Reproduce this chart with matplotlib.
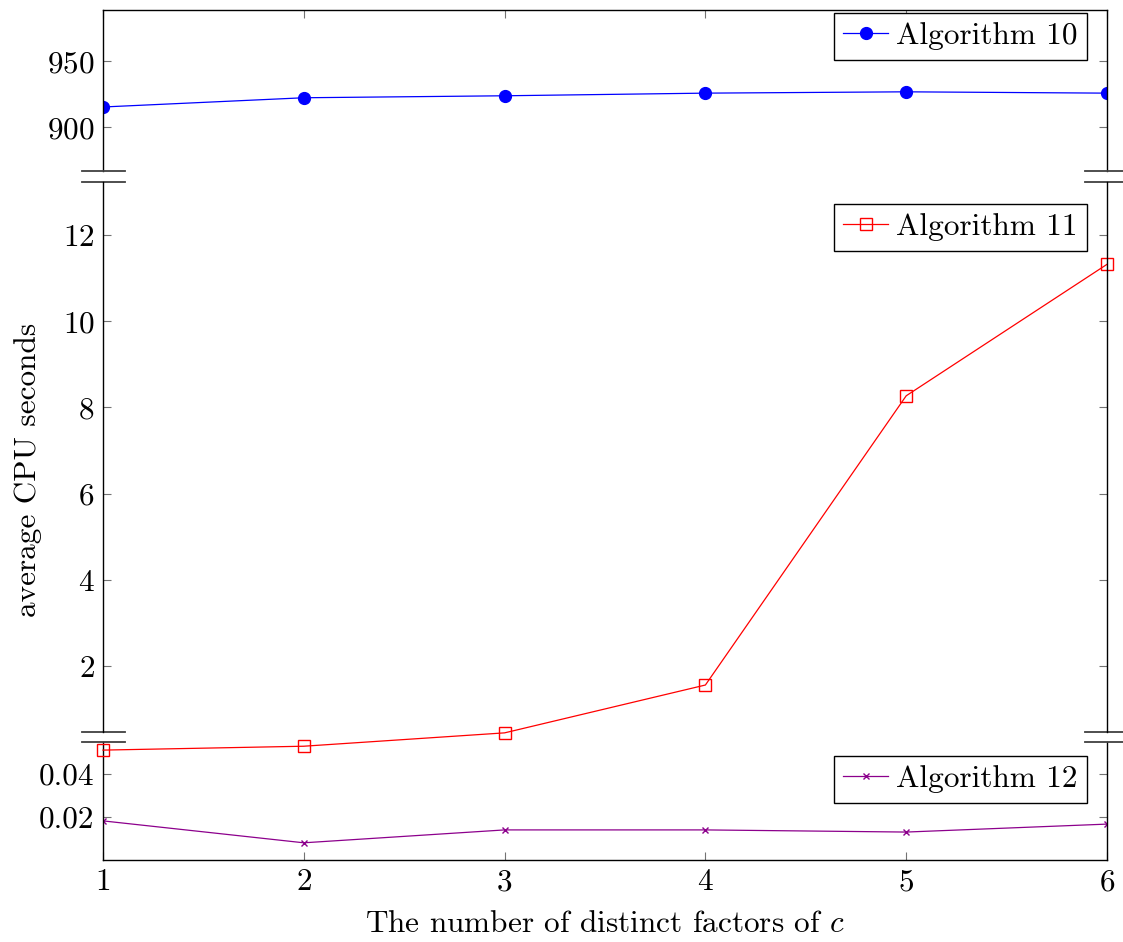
import numpy as np
import matplotlib.pyplot as plt
from matplotlib.lines import Line2D

plt.rcParams['font.family'] = 'serif'
plt.rcParams['font.serif'] = ['cmr10']
plt.rcParams['mathtext.fontset'] = 'cm'
plt.rcParams['axes.formatter.use_mathtext'] = True

x = [1, 2, 3, 4, 5, 6]
alg10 = [915.5, 922.5, 924.0, 926.0, 927.0, 926.0]
alg11 = [0.05, 0.14, 0.45, 1.56, 8.27, 11.32]
alg12 = [0.0182, 0.0080, 0.0140, 0.0140, 0.0130, 0.0167]

W, H = 1123, 942
fig = plt.figure(figsize=(W / 100, H / 100), dpi=100)

def box(top, bot):
    return [103 / W, 1 - bot / H, 1004 / W, (bot - top) / H]

ax1 = fig.add_axes(box(10, 171))
ax2 = fig.add_axes(box(182, 732))
ax3 = fig.add_axes(box(742, 860))
ax2.set_zorder(5)
ax2.patch.set_visible(False)

fs = 22.5
for ax in (ax1, ax2, ax3):
    ax.set_xlim(1, 6)
    ax.set_xticks(x)
    ax.tick_params(direction='in', length=6, color='0.45', labelsize=fs,
                   left=True, right=True, top=True, bottom=True, pad=6)
    for s in ax.spines.values():
        s.set_linewidth(1.0)

ax1.spines['bottom'].set_visible(False)
ax1.tick_params(bottom=False, labelbottom=False)
ax2.spines['top'].set_visible(False)
ax2.spines['bottom'].set_visible(False)
ax2.tick_params(top=False, bottom=False, labelbottom=False)
ax3.spines['top'].set_visible(False)
ax3.tick_params(top=False)

ax1.plot(x, alg10, color='blue', lw=0.9, marker='o', ms=8.5, label='Algorithm 10')
ax1.set_ylim(867, 989)
ax1.set_yticks([900, 950])

ax2.plot(x, alg11, color='red', lw=0.9, marker='s', ms=8, mfc='none', mew=1.0,
         label='Algorithm 11', clip_on=False)
ax2.set_ylim(0.47, 13.23)
ax2.set_yticks([2, 4, 6, 8, 10, 12])

ax3.plot(x, alg12, color=(0.55, 0, 0.55), lw=0.9, marker='x', ms=5, mew=1.0,
         label='Algorithm 12')
ax3.set_ylim(0.0, 0.0549)
ax3.set_yticks([0.02, 0.04])
ax3.set_yticklabels(['0.02', '0.04'])

for ax, top in ((ax1, 13), (ax2, 204), (ax3, 756)):
    leg = ax.legend(loc='upper right', bbox_to_anchor=(1087 / W, 1 - top / H),
                    bbox_transform=fig.transFigure, fontsize=fs, frameon=True,
                    fancybox=False, edgecolor='black', framealpha=1,
                    handlelength=1.45, handletextpad=0.25, borderpad=0.3,
                    borderaxespad=0)
    leg.get_frame().set_linewidth(1.0)

# break marks on both vertical axes
for yy in (171, 182, 732, 742):
    for x0, x1 in ((82, 125), (1085, 1130)):
        fig.add_artist(Line2D([x0 / W, x1 / W], [1 - yy / H, 1 - yy / H],
                              color='0.25', lw=1.3, transform=fig.transFigure))

ax3.set_xlabel('The number of distinct factors of $c$', fontsize=fs, labelpad=10)
fig.text(28 / W, 1 - 470 / H, 'average CPU seconds', rotation=90, fontsize=fs,
         ha='center', va='center')

fig.savefig('out.png', dpi=100)
